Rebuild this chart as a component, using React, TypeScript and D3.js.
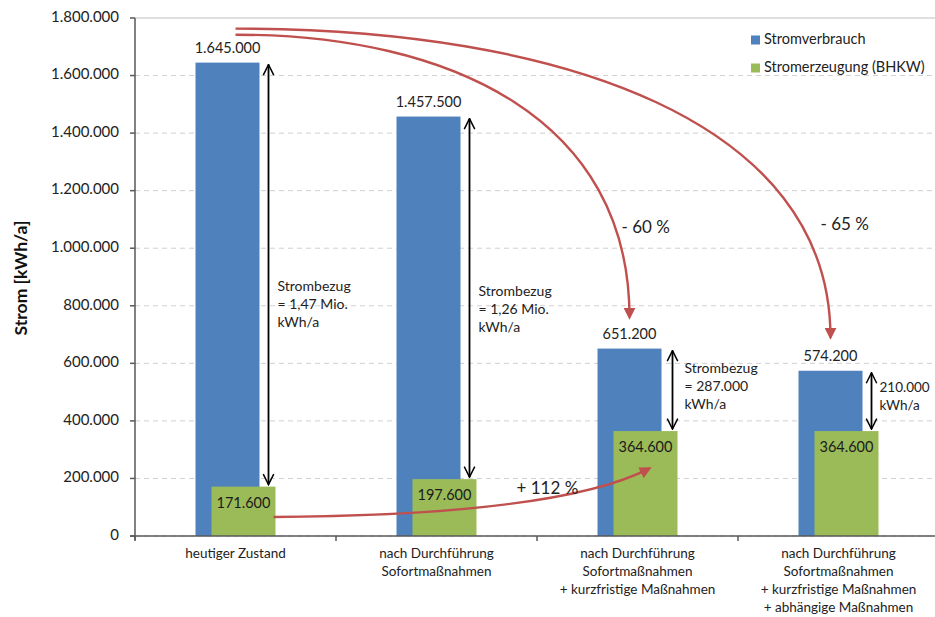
import { useMemo } from 'react';
import * as d3 from 'd3';

const categories = [
  ['heutiger Zustand'],
  ['nach Durchführung', 'Sofortmaßnahmen'],
  ['nach Durchführung', 'Sofortmaßnahmen', '+ kurzfristige Maßnahmen'],
  ['nach Durchführung', 'Sofortmaßnahmen', '+ kurzfristige Maßnahmen', '+ abhängige Maßnahmen'],
];
const consumption = [1645000, 1457500, 651200, 574200];
const generation = [171600, 197600, 364600, 364600];
const yTicks = [0, 200000, 400000, 600000, 800000, 1000000, 1200000, 1400000, 1600000, 1800000];
const seriesNames = ['Stromverbrauch', 'Stromerzeugung (BHKW)'];
const gapLabels = [
  ['Strombezug', '= 1,47 Mio.', 'kWh/a'],
  ['Strombezug', '= 1,26 Mio.', 'kWh/a'],
  ['Strombezug', '= 287.000', 'kWh/a'],
  ['210.000', 'kWh/a'],
];
// value level of the first line of each gap label
const gapLabelLevels = [865000, 845000, 578000, 514000];
// red trend arrows: [from category, from value, to category, to value, label, label level]
const trendArrows: [number, number, number, number, string, number][] = [
  [0, 1742000, 2, 760000, '- 60 %', 1052000],
  [0, 1763000, 3, 690000, '- 65 %', 1062000],
  [0, 66000, 2, 235000, '+ 112 %', 145000],
];

const W = 935;
const H = 617;
const MARGIN = { top: 18, right: -4, bottom: 81, left: 135 };
const BLUE = '#4f81bd';
const GREEN = '#9bbb59';
const RED = '#c0504d';
const FONT = 'Lato, "Open Sans", sans-serif';

const de = d3.formatLocale({ decimal: ',', thousands: '.', grouping: [3], currency: ['', ' €'] });
const fmt = de.format(',d');

// gap between blue bar and the black arrow / its label, per category
const arrowGap = [9, 9, 11, 9];
const textGap = [18, 18, 23, 17];

export default function App() {
  const x = useMemo(
    () => d3.scaleBand<number>().domain(categories.map((_, i) => i)).range([MARGIN.left, W - MARGIN.right]).padding(0),
    []
  );
  const y = useMemo(() => d3.scaleLinear().domain([0, 1800000]).range([H - MARGIN.bottom, MARGIN.top]), []);
  const bw = 64;
  const center = (i: number) => (x(i) ?? 0) + x.bandwidth() / 2;
  const blueX = (i: number) => center(i) - 40;
  const greenX = (i: number) => center(i) - 24;
  const right = W - MARGIN.right;
  const bottom = y(0);

  const trendPaths = trendArrows.map(([c0, v0, c1, v1], k) => {
    const p = d3.path();
    const sx = k === 2 ? greenX(c0) + bw - 2 : center(c0);
    const sy = y(v0);
    const ex = k === 2 ? greenX(c1) + bw / 2 + 4 : blueX(c1) + bw / 2;
    const ey = y(v1);
    p.moveTo(sx, sy);
    if (k === 2) {
      p.quadraticCurveTo(ex - 90, sy - 2, ex, ey);
    } else {
      p.bezierCurveTo(sx + (ex - sx) * 0.55, sy, ex, sy + (ey - sy) * 0.3, ex, ey);
    }
    return p.toString();
  });
  const labelX = [center(2) - 16, center(3) - 18, center(2) - 121];

  return (
    <svg width={W} height={H} style={{ position: 'fixed', left: 0, top: 0, background: '#fff' }} fontFamily={FONT}>
      <defs>
        <marker id="redHead" viewBox="0 0 10 10" refX="8" refY="5" markerWidth="5" markerHeight="5" orient="auto-start-reverse" markerUnits="strokeWidth">
          <path d="M0,0 L10,5 L0,10 z" fill={RED} />
        </marker>
        <marker id="blackHead" viewBox="0 0 12 12" refX="11" refY="6" markerWidth="7" markerHeight="7" orient="auto-start-reverse" markerUnits="strokeWidth">
          <path d="M1,1 L11,6 L1,11" fill="none" stroke="#000" strokeWidth={1.4} />
        </marker>
      </defs>

      {/* grid */}
      {yTicks.map((t) => (
        <line
          key={t}
          x1={MARGIN.left}
          x2={right}
          y1={y(t)}
          y2={y(t)}
          stroke={t === 1800000 ? '#bfbfbf' : '#d0d0d0'}
          strokeWidth={1}
          strokeDasharray={t === 1800000 ? undefined : '5,4'}
        />
      ))}

      {/* bars */}
      {consumption.map((v, i) => (
        <rect key={'b' + i} x={blueX(i)} y={y(v)} width={bw} height={bottom - y(v)} fill={BLUE} />
      ))}
      {generation.map((v, i) => (
        <rect key={'g' + i} x={greenX(i)} y={y(v)} width={bw} height={bottom - y(v)} fill={GREEN} />
      ))}

      {/* value labels */}
      {consumption.map((v, i) => (
        <text key={'bl' + i} x={blueX(i) + bw / 2} y={y(v) - 10} textAnchor="middle" fontSize={14.5} fill="#222">
          {fmt(v)}
        </text>
      ))}
      {generation.map((v, i) => (
        <text key={'gl' + i} x={greenX(i) + bw / 2} y={y(v) + 21} textAnchor="middle" fontSize={14.5} fill="#1a1a1a">
          {fmt(v)}
        </text>
      ))}

      {/* black double arrows */}
      {consumption.map((v, i) => (
        <line
          key={'da' + i}
          x1={blueX(i) + bw + arrowGap[i]}
          x2={blueX(i) + bw + arrowGap[i]}
          y1={y(v) + 2}
          y2={y(generation[i]) - 2}
          stroke="#000"
          strokeWidth={1.8}
          markerStart="url(#blackHead)"
          markerEnd="url(#blackHead)"
        />
      ))}
      {gapLabels.map((lines, i) => (
        <text key={'gt' + i} fontSize={i === 3 ? 13.5 : 14} fill="#222">
          {lines.map((l, j) => (
            <tspan key={j} x={blueX(i) + bw + textGap[i]} y={y(gapLabelLevels[i]) + j * 18} dominantBaseline="middle">
              {l}
            </tspan>
          ))}
        </text>
      ))}

      {/* red trend arrows */}
      {trendPaths.map((d, k) => (
        <path key={'tp' + k} d={d} fill="none" stroke={RED} strokeWidth={2.4} markerEnd="url(#redHead)" />
      ))}
      {trendArrows.map((a, k) => (
        <text key={'tl' + k} x={labelX[k]} y={y(a[5])} fontSize={17} fill="#222">
          {a[4]}
        </text>
      ))}

      {/* y axis */}
      <line x1={MARGIN.left} x2={MARGIN.left} y1={MARGIN.top} y2={bottom + 4} stroke="#595959" strokeWidth={1.5} />
      {yTicks.map((t) => (
        <g key={'yt' + t}>
          <line x1={MARGIN.left - 5} x2={MARGIN.left} y1={y(t)} y2={y(t)} stroke="#595959" strokeWidth={1.5} />
          <text x={MARGIN.left - 16} y={y(t)} textAnchor="end" dominantBaseline="middle" fontSize={15} fill="#222">
            {fmt(t)}
          </text>
        </g>
      ))}
      <text
        transform={`translate(27,${278}) rotate(-90)`}
        textAnchor="middle"
        fontSize={17.5}
        fontWeight="bold"
        fill="#111"
      >
        Strom [kWh/a]
      </text>

      {/* x axis */}
      <line x1={MARGIN.left - 5} x2={right} y1={bottom} y2={bottom} stroke="#595959" strokeWidth={1.5} />
      {categories.map((_, i) => (
        <line key={'xt' + i} x1={x(i)} x2={x(i)} y1={bottom} y2={bottom + 5} stroke="#595959" strokeWidth={1.5} />
      ))}
      {categories.map((lines, i) => (
        <text key={'xl' + i} textAnchor="middle" fontSize={13.5} fill="#222">
          {lines.map((l, j) => (
            <tspan key={j} x={center(i)} y={bottom + 22 + j * 18}>
              {l}
            </tspan>
          ))}
        </text>
      ))}

      {/* legend */}
      {seriesNames.map((n, k) => (
        <g key={n} transform={`translate(751,${40 + k * 28})`}>
          <rect x={0} y={-4.5} width={9} height={9} fill={k === 0 ? BLUE : GREEN} />
          <text x={13} y={0} dominantBaseline="middle" fontSize={14.5} fill="#222">
            {n}
          </text>
        </g>
      ))}
    </svg>
  );
}
